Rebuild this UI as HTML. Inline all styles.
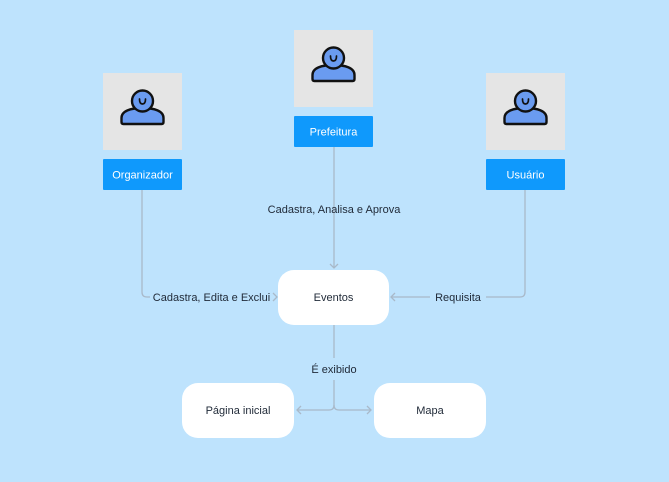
<!DOCTYPE html>
<html><head><meta charset="utf-8"><style>
html,body{margin:0;padding:0;background:#bee3fd;}
svg{display:block;}
text{font-family:"Liberation Sans",sans-serif;font-size:11px;}
</style></head><body>
<svg width="669" height="482" viewBox="0 0 669 482" xmlns="http://www.w3.org/2000/svg">
<rect width="669" height="482" fill="#bee3fd"/>
<defs>
<g id="person">
<path d="M-21 21 V17 C-21 10 -12 7 0 7 C12 7 21 10 21 17 V21 Q21 23 19 23 H-19 Q-21 23 -21 21 Z" fill="#6a9bf0" stroke="#111" stroke-width="2.4" stroke-linejoin="round"/>
<circle cx="0" cy="0" r="10.5" fill="#6a9bf0" stroke="#111" stroke-width="2.4"/>
<path d="M-3 -2 Q-3 3 0 3 Q3 3 3 -2" fill="none" stroke="#111" stroke-width="1.7" stroke-linecap="round"/>
</g>
</defs>
<g fill="none" stroke="#a9b9c9" stroke-width="1.3">
<path d="M142 190 V292 Q142 297 147 297 H150"/>
<path d="M525 190 V292 Q525 297 520 297 H486"/>
<path d="M334 147 V268"/>
<path d="M334 325 V358"/>
<path d="M334 380 V405 Q334 410 329 410 H297"/>
<path d="M334 405 Q334 410 339 410 H371"/>
<path d="M430 297 H391"/>
<path d="M273 293 L277 297 L273 301"/>
<path d="M395 293 L391 297 L395 301"/>
<path d="M330 264 L334 268 L338 264"/>
<path d="M301 406 L297 410 L301 414"/>
<path d="M367 406 L371 410 L367 414"/>
</g>
<rect x="103" y="73" width="79" height="77" fill="#e5e5e5"/>
<rect x="294" y="30" width="79" height="77" fill="#e5e5e5"/>
<rect x="486" y="73" width="79" height="77" fill="#e5e5e5"/>
<use href="#person" x="142.5" y="101"/>
<use href="#person" x="333.5" y="58"/>
<use href="#person" x="525.5" y="101"/>
<rect x="103" y="159" width="79" height="31" fill="#0f99fc" rx="1"/>
<rect x="294" y="116" width="79" height="31" fill="#0f99fc" rx="1"/>
<rect x="486" y="159" width="79" height="31" fill="#0f99fc" rx="1"/>
<g fill="#fff" text-anchor="middle">
<text x="142.5" y="178.5">Organizador</text>
<text x="333.5" y="135.5">Prefeitura</text>
<text x="525.5" y="178.5">Usuário</text>
</g>
<rect x="278" y="270" width="111" height="55" rx="16" fill="#fff"/>
<rect x="182" y="383" width="112" height="55" rx="16" fill="#fff"/>
<rect x="374" y="383" width="112" height="55" rx="16" fill="#fff"/>
<g fill="#1f2937" text-anchor="middle">
<text x="333.5" y="301">Eventos</text>
<text x="238" y="414">Página inicial</text>
<text x="430" y="414">Mapa</text>
<text x="334" y="213">Cadastra, Analisa e Aprova</text>
<text x="211.5" y="301">Cadastra, Edita e Exclui</text>
<text x="458" y="301">Requisita</text>
<text x="334" y="373">É exibido</text>
</g>
</svg>
</body></html>
